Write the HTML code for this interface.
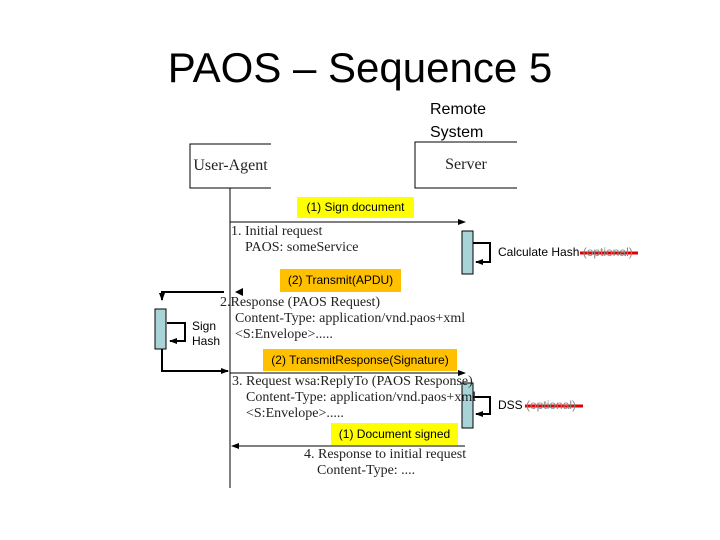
<!DOCTYPE html>
<html><head><meta charset="utf-8"><style>
body{margin:0;width:720px;height:540px;background:#fff;overflow:hidden;position:relative;font-family:"Liberation Sans",sans-serif}
.a{position:absolute;white-space:nowrap}
.s{font-family:"Liberation Serif",serif;font-size:14px;color:#222}
.h{font-size:12px;color:#000}
.y{position:absolute;background:#ffff00;font-size:12px;text-align:center}
.o{position:absolute;background:#ffc000;font-size:12px;text-align:center}
</style></head><body>
<div class="a" style="left:0;width:720px;text-align:center;top:44px;font-size:42px;">PAOS – Sequence 5</div>
<div class="a" style="left:430px;top:98px;font-size:16px;line-height:23px">Remote<br>System</div>
<svg style="position:absolute;left:0;top:0" width="720" height="540">
<defs><marker id="m" markerWidth="8" markerHeight="8" refX="7" refY="4" orient="auto" markerUnits="userSpaceOnUse"><path d="M0,1 L8,4 L0,7z" fill="#000"/></marker></defs>
<g stroke="#000" fill="none" stroke-width="1">
<path d="M271,144 H190 V188 H271"/>
<path d="M517,142 H415 V188 H517"/>
<path d="M230,188 V488"/>
<path d="M230,222 H465" marker-end="url(#m)"/>
<path d="M465,446 H232" marker-end="url(#m)"/>
<path d="M230,373 H465" marker-end="url(#m)"/>
</g>
<path d="M243,288 L235,292 L243,296z" fill="#000"/>
<g stroke="#000" fill="none" stroke-width="2">
<path d="M224,292 H162 V300" marker-end="url(#m)"/>
<path d="M162,349 V371 H228" marker-end="url(#m)"/>
<path d="M167,323 H185 V341 H170" marker-end="url(#m)"/>
<path d="M473,243 H490 V262 H476" marker-end="url(#m)"/>
<path d="M473,397 H490 V414 H476" marker-end="url(#m)"/>
</g>
<g fill="#a8d4d8" stroke="#000">
<rect x="462" y="231" width="11" height="43"/>
<rect x="155" y="309" width="11" height="40"/>
<rect x="462" y="383" width="11" height="45"/>
</g>
<g stroke="#e00000" stroke-width="3"><line x1="580" y1="253" x2="638" y2="253"/><line x1="525" y1="406" x2="583" y2="406"/></g>
</svg>
<div class="a s" style="left:190px;top:157px;font-size:16px;width:81px;text-align:center">User-Agent</div>
<div class="a s" style="left:415px;top:156px;font-size:16px;width:102px;text-align:center">Server</div>
<div class="y" style="left:297px;top:197px;width:117px;height:21px;line-height:21px">(1) Sign document</div>
<div class="a s" style="left:231px;top:224px">1. Initial request</div>
<div class="a s" style="left:245px;top:240px">PAOS: someService</div>
<div class="a h" style="left:498px;top:245px">Calculate Hash <span style="color:#888">(optional)</span></div>
<div class="o" style="left:280px;top:269px;width:121px;height:23px;line-height:23px">(2) Transmit(APDU)</div>
<div class="a s" style="left:220px;top:295px">2.Response (PAOS Request)</div>
<div class="a s" style="left:235px;top:311px">Content-Type: application/vnd.paos+xml</div>
<div class="a s" style="left:235px;top:327px">&lt;S:Envelope&gt;.....</div>
<div class="a h" style="left:192px;top:319px;line-height:15px">Sign<br>Hash</div>
<div class="o" style="left:263px;top:349px;width:194px;height:22px;line-height:22px">(2) TransmitResponse(Signature)</div>
<div class="a s" style="left:232px;top:374px">3. Request wsa:ReplyTo (PAOS Response)</div>
<div class="a s" style="left:246px;top:390px">Content-Type: application/vnd.paos+xml</div>
<div class="a s" style="left:246px;top:406px">&lt;S:Envelope&gt;.....</div>
<div class="a h" style="left:498px;top:398px">DSS <span style="color:#888">(optional)</span></div>
<div class="y" style="left:331px;top:423px;width:127px;height:22px;line-height:22px">(1) Document signed</div>
<div class="a s" style="left:304px;top:447px">4. Response to initial request</div>
<div class="a s" style="left:317px;top:463px">Content-Type: ....</div>
</body></html>
